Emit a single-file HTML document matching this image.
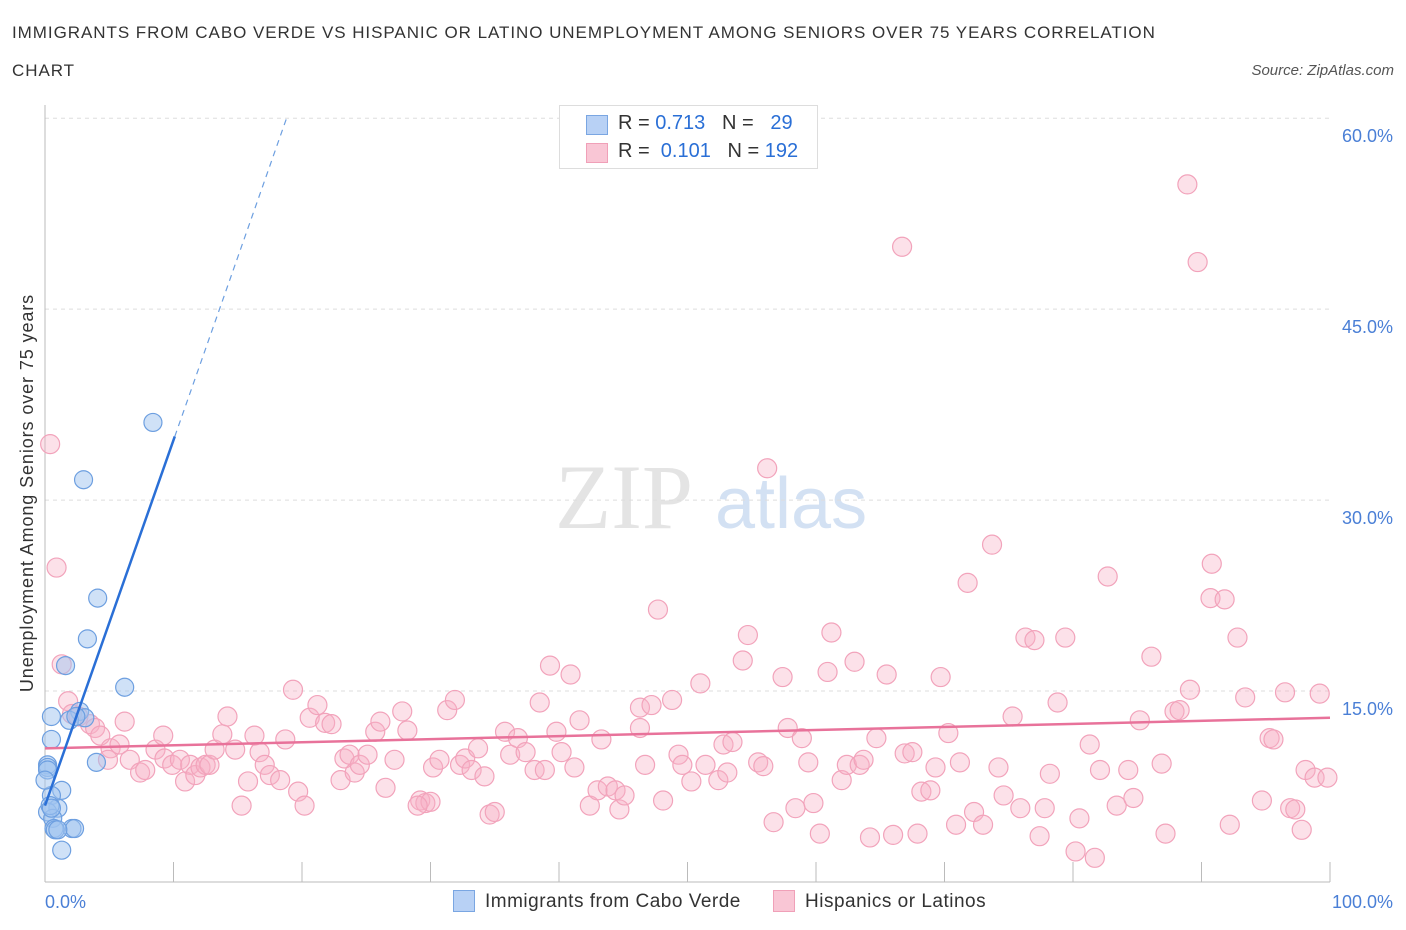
<!DOCTYPE html>
<html><head><meta charset="utf-8"><style>
body{margin:0;background:#fff;font-family:"Liberation Sans",sans-serif;}
#wrap{position:relative;width:1406px;height:930px;overflow:hidden;}
.t{position:absolute;color:#333;font-size:17px;}
</style></head><body>
<div id="wrap">
<div class="t" style="left:12px;top:23px;letter-spacing:0.95px;">IMMIGRANTS FROM CABO VERDE VS HISPANIC OR LATINO UNEMPLOYMENT AMONG SENIORS OVER 75 YEARS CORRELATION</div>
<div class="t" style="left:12px;top:61px;letter-spacing:0.95px;">CHART</div>
<div class="t" style="right:12px;top:62px;font-size:15px;font-style:italic;color:#555;">Source: ZipAtlas.com</div>
<svg id="svg" width="1406" height="930" style="position:absolute;left:0;top:0"></svg>
</div>
<script>
const xTicks=[0,10,20,30,40,50,60,70,80,90,100];
const yTicks=[15,30,45,60];
const yTickLabels=["15.0%","30.0%","45.0%","60.0%"];
const blueX=[8.4,3.0,4.1,3.3,1.6,6.2,0.5,2.7,3.1,0.5,0.2,0.2,4.0,1.3,0.5,1.0,0.2,0.6,0.7,2.1,2.3,1.3,0.8,0.2,0.4,1.9,0.0,0.5,1.0,2.4];
const blueY=[36.1,31.6,22.3,19.1,17.0,15.3,13.0,13.4,12.9,11.2,9.2,9.0,9.4,7.2,6.8,5.8,5.5,5.0,4.2,4.2,4.2,2.5,4.1,8.8,6.0,12.7,8.0,5.8,4.1,13.0];
const pinkX=[0.4,0.9,1.3,1.8,2.1,2.6,3.5,3.9,4.3,5.1,5.8,6.2,4.9,6.6,7.4,7.8,8.6,9.2,9.3,9.9,10.5,10.9,11.3,11.7,12.1,12.5,12.8,13.2,13.8,14.2,14.8,15.3,15.8,16.3,16.7,17.1,17.5,18.3,18.7,19.3,19.7,20.2,20.6,21.2,21.8,22.3,23.0,23.3,23.7,24.1,24.5,25.1,25.7,26.1,26.5,27.2,27.8,28.2,29.2,29.6,30.0,29.0,30.2,30.7,31.3,31.9,32.3,32.7,33.2,33.7,34.2,34.6,35.0,35.8,36.2,36.8,37.4,38.1,38.5,38.9,39.3,39.8,40.2,40.9,41.2,41.6,42.4,43.0,43.3,43.8,44.4,44.7,45.1,46.3,46.7,46.3,47.2,47.7,48.1,48.8,49.3,49.6,50.3,51.0,51.4,52.4,52.8,53.1,53.5,54.3,54.7,55.5,55.9,56.2,56.7,57.4,57.8,58.4,58.9,59.4,59.8,60.3,60.9,61.2,62.0,62.4,63.0,63.4,63.7,64.2,64.7,65.5,66.0,66.7,66.9,67.5,67.9,68.2,68.9,69.3,69.7,70.3,70.9,71.2,71.8,72.3,73.0,73.7,74.2,74.6,75.3,75.9,76.3,77.0,77.4,77.8,78.2,78.8,79.4,80.2,80.5,81.3,81.7,82.1,82.7,83.4,84.3,84.7,85.2,86.1,86.9,87.2,87.9,88.3,88.9,89.1,89.7,90.7,90.8,91.8,92.2,92.8,93.4,94.7,95.3,95.6,96.5,96.9,97.3,97.8,98.1,98.8,99.2,99.8];
const pinkY=[34.4,24.7,17.1,14.2,13.2,13.0,12.4,12.1,11.5,10.5,10.8,12.6,9.6,9.6,8.6,8.8,10.4,11.5,9.7,9.2,9.6,7.9,9.2,8.4,9.0,9.2,9.2,10.4,11.6,13.0,10.4,6.0,7.9,11.5,10.2,9.2,8.4,8.0,11.2,15.1,7.1,6.0,12.9,13.9,12.5,12.4,8.0,9.7,10.0,8.6,9.2,10.0,11.8,12.6,7.4,9.6,13.4,11.9,6.4,6.2,6.3,6.0,9.0,9.6,13.5,14.3,9.2,9.7,8.8,10.5,8.3,5.3,5.5,11.8,10.0,11.3,10.2,8.8,14.1,8.8,17.0,11.8,10.2,16.3,9.0,12.7,6.0,7.2,11.2,7.5,7.2,5.7,6.8,12.1,9.2,13.7,13.9,21.4,6.4,14.3,10.0,9.2,7.9,15.6,9.2,8.0,10.8,8.6,11.0,17.4,19.4,9.4,9.1,32.5,4.7,16.1,12.1,5.8,11.3,9.4,6.2,3.8,16.5,19.6,8.0,9.2,17.3,9.2,9.6,3.5,11.3,16.3,3.7,49.9,10.1,10.2,3.8,7.1,7.2,9.0,16.1,11.7,4.5,9.4,23.5,5.5,4.5,26.5,9.0,6.8,13.0,5.8,19.2,19.0,3.6,5.8,8.5,14.1,19.2,2.4,5.0,10.8,1.9,8.8,24.0,6.0,8.8,6.6,12.7,17.7,9.3,3.8,13.4,13.5,54.8,15.1,48.7,22.3,25.0,22.2,4.5,19.2,14.5,6.4,11.3,11.2,14.9,5.8,5.7,4.1,8.8,8.2,14.8,8.2];
const blueLine=[[0,6.0],[10.1,35.0]];
const blueDash=[[10.1,35.0],[18.8,60.0]];
const pinkLine=[[0,10.5],[100,12.9]];
const X=v=>45+v*12.85, Y=v=>882-v*12.73;
const NS="http://www.w3.org/2000/svg", svg=document.getElementById('svg');
function mk(t,a,p){const e=document.createElementNS(NS,t);for(const k in a)e.setAttribute(k,a[k]);(p||svg).appendChild(e);return e;}
let w=mk('text',{x:555,y:528,'font-family':'Liberation Serif','font-size':92,fill:'#e4e4e4'});w.textContent='ZIP';


w=mk('text',{x:715,y:528,'font-family':'Liberation Sans','font-size':72,fill:'#d3e1f3'});w.textContent='atlas';


yTicks.forEach((v,i)=>{
 let g=mk('line',{x1:45,x2:1330,y1:Y(v),y2:Y(v),stroke:'#ddd','stroke-dasharray':'4,4'});
 
 
 let t=mk('text',{x:1393,y:Y(v)+24,'text-anchor':'end','font-size':18,fill:'#4a7fd6','font-family':'Liberation Sans'});t.textContent=yTickLabels[i];
 
 
});
let ax=mk('line',{x1:45,x2:1330,y1:882,y2:882,stroke:'#bbb'});


ax=mk('line',{x1:45,x2:45,y1:105,y2:882,stroke:'#bbb'});


xTicks.forEach(v=>{let t=mk('line',{x1:X(v),x2:X(v),y1:862,y2:882,stroke:'#bbb'});
 
 });
[[0,'0.0%',58,'start'],[100,'100.0%',1393,'end']].forEach(d=>{let t=mk('text',{x:d[0]==0?45:1393,y:908,'text-anchor':d[3],'font-size':18,fill:'#4a7fd6','font-family':'Liberation Sans'});t.textContent=d[1];
 
 });
let yt=mk('text',{x:0,y:0,transform:'translate(33,493) rotate(-90)','text-anchor':'middle','font-size':18,'letter-spacing':'0.9',fill:'#333','font-family':'Liberation Sans'});yt.textContent='Unemployment Among Seniors over 75 years';


pinkX.forEach((v,i)=>{let c=mk('circle',{cx:X(v),cy:Y(pinkY[i]),r:9.5,fill:'rgba(248,175,198,0.38)',stroke:'#f2a3bb','stroke-width':1.2});
 
 });
blueX.forEach((v,i)=>{let c=mk('circle',{cx:X(v),cy:Y(blueY[i]),r:9,fill:'rgba(160,195,240,0.5)',stroke:'#6d9fe0','stroke-width':1.2});
 
 });
let l=mk('line',{x1:X(pinkLine[0][0]),y1:Y(pinkLine[0][1]),x2:X(pinkLine[1][0]),y2:Y(pinkLine[1][1]),stroke:'#e8729a','stroke-width':2.5});


l=mk('line',{x1:X(blueLine[0][0]),y1:Y(blueLine[0][1]),x2:X(blueLine[1][0]),y2:Y(blueLine[1][1]),stroke:'#2a6fd6','stroke-width':2.5});


l=mk('line',{x1:X(blueDash[0][0]),y1:Y(blueDash[0][1]),x2:X(blueDash[1][0]),y2:Y(blueDash[1][1]),stroke:'#6d9fe0','stroke-width':1.2,'stroke-dasharray':'6,5'});


</script>
<div style="position:absolute;left:559px;top:105px;width:257px;height:62px;border:1px solid #ddd;background:#fff;font-size:20px;color:#333;">
 <div style="position:absolute;left:26px;top:9px;width:20px;height:18px;background:#b8d1f5;border:1px solid #7aa6e2;"></div>
 <div style="position:absolute;left:58px;top:6px;">R = <span style="color:#2a6fd6">0.713</span>&nbsp;&nbsp;&nbsp;N = &nbsp;&nbsp;<span style="color:#2a6fd6">29</span></div>
 <div style="position:absolute;left:26px;top:37px;width:20px;height:18px;background:#f9c6d5;border:1px solid #f0a0b8;"></div>
 <div style="position:absolute;left:58px;top:34px;">R = &nbsp;<span style="color:#2a6fd6">0.101</span>&nbsp;&nbsp;&nbsp;N = <span style="color:#2a6fd6">192</span></div>
</div>
<div style="position:absolute;left:453px;top:890px;width:20px;height:20px;background:#b8d1f5;border:1px solid #7aa6e2;"></div>
<div class="t" style="left:485px;top:891px;font-size:19px;letter-spacing:0.5px;">Immigrants from Cabo Verde</div>
<div style="position:absolute;left:773px;top:890px;width:20px;height:20px;background:#f9c6d5;border:1px solid #f0a0b8;"></div>
<div class="t" style="left:805px;top:891px;font-size:19px;letter-spacing:0.5px;">Hispanics or Latinos</div>
</body></html>
